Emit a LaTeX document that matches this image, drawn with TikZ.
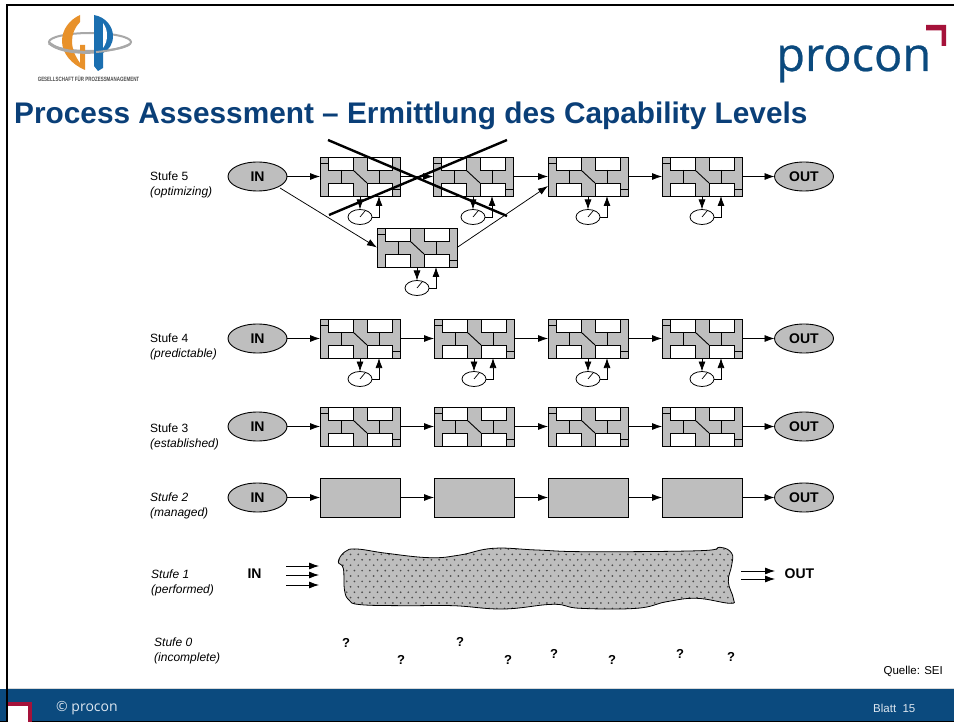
\documentclass[tikz,border=0pt]{standalone}
\usepackage{fontspec}
\setmainfont{Liberation Sans}
\newfontfamily\procfont{Open Sans}
\newfontfamily\proclogofont[FakeBold=0.5]{Open Sans}
\usetikzlibrary{arrows.meta,shapes.geometric,calc}
\definecolor{procblue}{HTML}{0B4A7E}
\definecolor{titleblue}{HTML}{0A3F78}
\definecolor{procred}{HTML}{A5123A}
\definecolor{boxgray}{HTML}{BEBEBE}
\definecolor{footwhite}{HTML}{DCE6F0}
\definecolor{gporange}{HTML}{E8912A}
\definecolor{gpblue}{HTML}{1B6FB0}
\definecolor{gpring}{HTML}{A8A8A8}
\tikzset{
  blockbox/.style={draw=black,line width=0.9pt,fill=boxgray,minimum width=80pt,minimum height=39pt,inner sep=0pt,outer sep=0pt,anchor=north west},
  whitecell/.style={draw=black,line width=0.9pt,fill=white},
  inner line/.style={draw=black,line width=0.9pt},
  gaugeoval/.style={draw=black,line width=0.8pt,fill=white,ellipse,minimum width=24pt,minimum height=15pt,inner sep=0pt,outer sep=0pt},
  termoval/.style={draw=black,line width=0.9pt,fill=boxgray,ellipse,minimum width=59pt,minimum height=29pt,inner sep=0pt,outer sep=0pt,font=\fontsize{14}{16}\bfseries\selectfont},
  arr/.style={draw=black,line width=0.75pt,-{Latex[length=10pt,width=7pt]}},
  lvl/.style={anchor=north west,inner sep=0pt,align=left,font=\fontsize{12}{15}\selectfont},
  qm/.style={inner sep=0pt,font=\fontsize{13}{15}\bfseries\selectfont},
  cross/.style={draw=black,line width=2.4pt}
}
\newcommand{\procblock}[3]{%
  \node[blockbox] (#1) at (#2,#3) {};
  \begin{scope}[shift={(#2,#3)}]
    \draw[whitecell] (8,0) rectangle (33,13);
    \draw[whitecell] (47,0) rectangle (72,13);
    \draw[whitecell] (8,26) rectangle (33,39);
    \draw[whitecell] (47,26) rectangle (72,39);
    \draw[inner line] (0,6) -- (8,6);
    \draw[inner line] (72,32) -- (80,32);
    \draw[inner line] (21,13) -- (21,26);
    \draw[inner line] (59,13) -- (59,26);
    \draw[inner line] (33,13) -- (47,26);
    \draw[inner line] (0,0) rectangle (80,39);
  \end{scope}}
\newcommand{\gaugeblock}[3]{%
  \procblock{#1}{#2}{#3}
  \node[gaugeoval] (#1g) at (#2+40,#3+60) {};
  \coordinate (#1t) at (#2+40,#3+39);
  \coordinate (#1u) at (#2+59,#3+39);
  \draw[line width=0.7pt] (#1g.center) -- ++(5,-6);
  \draw[arr] (#1t) -- (#1g.north);
  \draw[arr] (#1g.east) -| (#1u);}
\newcommand{\plainblock}[3]{\node[blockbox] (#1) at (#2,#3) {};}
\newcommand{\blobpath}{plot[smooth cycle,tension=0.7] coordinates {(338.3,561.7)(345,551.7)(356.7,549)(386.7,553.3)(430,557.7)(460,555)(493.3,548.3)(536.7,550)(586.7,551.7)(700,550.7)(720,547.3)(731.7,553.3)(731.7,565)(728.3,581.7)(733.3,598.3)(730,603.3)(696.7,598.3)(666.7,601.7)(636.7,608.3)(580,608.3)(553.3,604.3)(503.3,609)(453.3,605.7)(403.3,605.7)(360,604.6)(349,600)(344.5,590)(343.3,568.3)}}
\begin{document}
\begin{tikzpicture}[x=1pt,y=-1pt]
\useasboundingbox (0,0) rectangle (954,722);
\fill[white] (0,0) rectangle (954,722);
% footer
\fill[procblue] (0,689) rectangle (954,722);
\fill[black!15] (8,687.7) rectangle (954,689);
\fill[black] (0,721) rectangle (954,722);
\fill[procred] (8,702) rectangle (32,722);
\fill[white] (8,706) rectangle (27.5,722);
\node[anchor=west,inner sep=0pt,text=footwhite,font=\procfont\fontsize{14}{16}\selectfont] (foot) at (56,708.5) {© procon};
\node[anchor=west,inner sep=0pt,text=footwhite,font=\fontsize{11.5}{13}\selectfont] (blatt) at (873,708.5) {Blatt\ \ 15};
% frame
\draw[black,line width=2.2pt] (7,722) -- (7,5) -- (954,5);
% GP logo
\draw[gpring,line width=2pt] (90,42) ellipse [x radius=41,y radius=9];
\fill[gporange] (80,15) .. controls (69,20) and (62,30) .. (62,41) .. controls (62,53) and (71,64) .. (85,70) -- (85,45) -- (80,45) -- (80,63) .. controls (75,56) and (72,49) .. (72,41) .. controls (72,34) and (75,27) .. (80,22) -- cycle;
\draw[gpring,line width=3pt] (49,43) .. controls (60,52) and (80,53) .. (96,52);
\fill[gpblue] (94,15) .. controls (106,17) and (113,27) .. (113,36) .. controls (113,44) and (109,50) .. (103,53) -- (103,68) -- (98,71) -- (94,66) -- cycle;
\fill[white] (103,23) .. controls (106,27) and (107,31) .. (107,35) .. controls (107,40) and (106,44) .. (103,48) -- cycle;
\draw[gpring,line width=2pt] (96,52) .. controls (110,51) and (122,48) .. (130,44);
\node[inner sep=0pt,xscale=0.72,font=\fontsize{6.2}{7}\bfseries\selectfont,text=black!70] (gptxt) at (88.5,79) {GESELLSCHAFT FÜR PROZESSMANAGEMENT};
% procon logo
\node[anchor=base west,inner sep=0pt,text=procblue,font=\proclogofont\fontsize{47}{50}\selectfont] (proconlogo) at (776,71) {procon};
\fill[procred] (926,25) -- (946,25) -- (946,46) -- (941.5,46) -- (941.5,30.5) -- (926,30.5) -- cycle;
% title
\node[anchor=base west,inner sep=0pt,text=titleblue,font=\fontsize{29.8}{32}\bfseries\selectfont] (title) at (14,123.5) {Process Assessment – Ermittlung des Capability Levels};
% level labels
\node[lvl] (l5) at (150,171.5) {Stufe 5\\\textit{(optimizing)}};
\node[lvl] (l4) at (150,334) {Stufe 4\\\textit{(predictable)}};
\node[lvl] (l3) at (150,423.5) {Stufe 3\\\textit{(established)}};
\node[lvl] (l2) at (150,493) {\textit{Stufe 2}\\\textit{(managed)}};
\node[lvl] (l1) at (151,570) {\textit{Stufe 1}\\\textit{(performed)}};
\node[lvl] (l0) at (154,638) {\textit{Stufe 0}\\\textit{(incomplete)}};
% row 5
\node[termoval] (in5) at (257.5,176.5) {IN};
\node[termoval] (out5) at (804,176.5) {OUT};
\gaugeblock{a1}{320}{157}
\gaugeblock{a2}{433}{157}
\gaugeblock{a3}{548}{157}
\gaugeblock{a4}{662}{157}
\gaugeblock{am}{377}{228}
\draw[arr] (in5) -- (a1.west);
\draw[arr] (a1.east) -- (a2.west);
\draw[arr] (a2.east) -- (a3.west);
\draw[arr] (a3.east) -- (a4.west);
\draw[arr] (a4.east) -- (out5);
\coordinate (inlow) at (280,188);
\draw[arr] (inlow) -- (am.west);
\coordinate (a3in) at (548,186);
\draw[arr] (am.east) -- (a3in);
\coordinate (x1a) at (328,140);
\coordinate (x1b) at (507,216);
\coordinate (x2a) at (507,140);
\coordinate (x2b) at (329,215);
\draw[cross] (x1a) -- (x1b);
\draw[cross] (x2a) -- (x2b);
% row 4
\node[termoval] (in4) at (257.5,338.5) {IN};
\node[termoval] (out4) at (804,338.5) {OUT};
\gaugeblock{b1}{320}{319}
\gaugeblock{b2}{434}{319}
\gaugeblock{b3}{548}{319}
\gaugeblock{b4}{662}{319}
\draw[arr] (in4) -- (b1.west);
\draw[arr] (b1.east) -- (b2.west);
\draw[arr] (b2.east) -- (b3.west);
\draw[arr] (b3.east) -- (b4.west);
\draw[arr] (b4.east) -- (out4);
% row 3
\node[termoval] (in3) at (257.5,426.5) {IN};
\node[termoval] (out3) at (804,426.5) {OUT};
\procblock{c1}{320}{407}
\procblock{c2}{434}{407}
\procblock{c3}{548}{407}
\procblock{c4}{662}{407}
\draw[arr] (in3) -- (c1.west);
\draw[arr] (c1.east) -- (c2.west);
\draw[arr] (c2.east) -- (c3.west);
\draw[arr] (c3.east) -- (c4.west);
\draw[arr] (c4.east) -- (out3);
% row 2
\node[termoval] (in2) at (257.5,497.5) {IN};
\node[termoval] (out2) at (804,497.5) {OUT};
\plainblock{d1}{320}{478}
\plainblock{d2}{434}{478}
\plainblock{d3}{548}{478}
\plainblock{d4}{662}{478}
\draw[arr] (in2) -- (d1.west);
\draw[arr] (d1.east) -- (d2.west);
\draw[arr] (d2.east) -- (d3.west);
\draw[arr] (d3.east) -- (d4.west);
\draw[arr] (d4.east) -- (out2);
% row 1
\fill[boxgray] \blobpath;
\begin{scope}
  \clip \blobpath;
  \foreach \r in {0,...,11}{
    \pgfmathsetmacro{\yy}{549+5.4*\r}
    \pgfmathsetmacro{\xo}{mod(\r,2)*3.85}
    \foreach \c in {0,...,51}{
      \fill[black!70] ({339+\xo+7.7*\c},\yy) circle (0.95);
    }
  }
\end{scope}
\draw[black,line width=0.8pt] \blobpath;
\node[inner sep=0pt,font=\fontsize{14}{16}\bfseries\selectfont] (in1) at (254.5,574) {IN};
\node[inner sep=0pt,font=\fontsize{14}{16}\bfseries\selectfont] (out1) at (799.5,574) {OUT};
\coordinate (i1a) at (286,566); \coordinate (i1b) at (319,566);
\coordinate (i2a) at (286,575); \coordinate (i2b) at (319,575);
\coordinate (i3a) at (286,585); \coordinate (i3b) at (319,585);
\draw[arr] (i1a) -- (i1b);
\draw[arr] (i2a) -- (i2b);
\draw[arr] (i3a) -- (i3b);
\coordinate (o1a) at (741,571); \coordinate (o1b) at (775,571);
\coordinate (o2a) at (741,579); \coordinate (o2b) at (775,579);
\draw[arr] (o1a) -- (o1b);
\draw[arr] (o2a) -- (o2b);
% question marks
\node[qm] (q1) at (346,643) {?};
\node[qm] (q2) at (401,660) {?};
\node[qm] (q3) at (460,642) {?};
\node[qm] (q4) at (508,660) {?};
\node[qm] (q5) at (554,654) {?};
\node[qm] (q6) at (612,660) {?};
\node[qm] (q7) at (680,654) {?};
\node[qm] (q8) at (731,657) {?};
\node[anchor=east,inner sep=0pt,font=\fontsize{11.5}{13}\selectfont] (src) at (943,671) {Quelle: SEI};
\end{tikzpicture}
\end{document}
